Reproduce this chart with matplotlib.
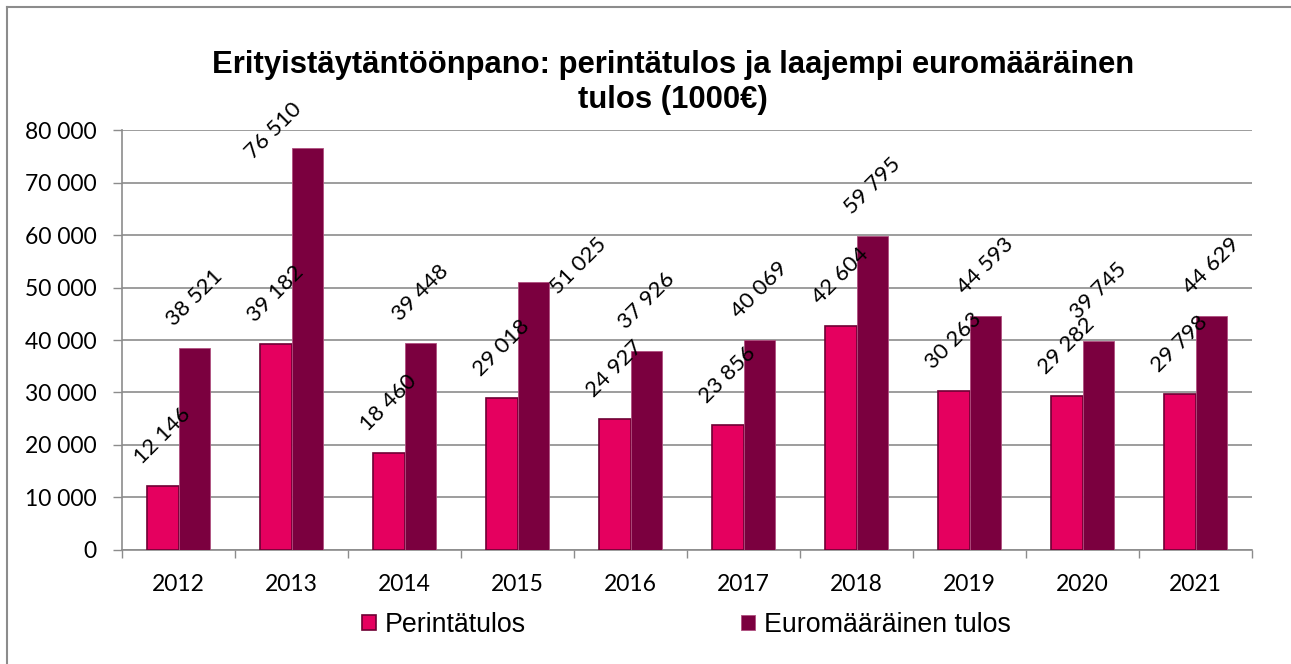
import numpy as np
import matplotlib
matplotlib.use("Agg")
from matplotlib import pyplot as plt
from matplotlib.lines import Line2D
from matplotlib.patches import Patch

# tiedot (1000 €)
years = ['2012', '2013', '2014', '2015', '2016', '2017', '2018', '2019', '2020', '2021']
perintatulos = [12146, 39182, 18460, 29018, 24927, 23856, 42604, 30263, 29282, 29798]
euromaarainen = [38521, 76510, 39448, 51025, 37926, 40069, 59795, 44593, 39745, 44629]
series_names = ['Perintätulos', 'Euromääräinen tulos']
title = 'Erityistäytäntöönpano: perintätulos ja laajempi euromääräinen\ntulos (1000€)'

PINK = '#E5005F'
PINK_EDGE = '#6E0034'
DARK = '#7B003F'
DARK_EDGE = '#B0507F'
GRID = '#8C8C8C'

DPI = 100
fig = plt.figure(figsize=(12.91, 6.64), dpi=DPI)
ax = fig.add_axes([0.0945, 0.1717, 0.8753, 0.6325])

x = np.arange(len(years))
w = 0.283
b1 = ax.bar(x - w / 2, perintatulos, w, color=PINK, edgecolor=PINK_EDGE, linewidth=1.2, zorder=3)
b2 = ax.bar(x + w / 2, euromaarainen, w, color=DARK, edgecolor=DARK_EDGE, linewidth=0.6, zorder=3)

ax.set_xlim(-0.5, len(years) - 0.5)
ax.set_ylim(0, 80000)
ax.set_yticks(np.arange(0, 80001, 10000))
ax.set_yticklabels([f'{v:,}'.replace(',', ' ') for v in range(0, 80001, 10000)])
ax.set_xticks(x)
ax.set_xticklabels(years)
ax.set_xticks(np.arange(-0.5, len(years)), minor=True)

for t in ax.get_yticklabels() + ax.get_xticklabels():
    t.set_fontfamily('Lato')
    t.set_fontsize(16.5)

ax.tick_params(axis='y', length=6.5, width=1, color=GRID, pad=12)
ax.tick_params(axis='x', which='major', length=0, pad=17)
ax.tick_params(axis='x', which='minor', length=6, width=1, color=GRID)
ax.grid(axis='y', color=GRID, linewidth=1.2, zorder=0)
for s in ['top', 'right']:
    ax.spines[s].set_visible(False)
for s in ['left', 'bottom']:
    ax.spines[s].set_color(GRID)
    ax.spines[s].set_linewidth(1.2)
ax.set_axisbelow(True)

# arvot vinottain pylväiden yläpuolelle (siirrot pikseleinä)
px = 72.0 / DPI
nudge = {(1, 1): (-34, 17), (3, 1): (45, 16)}
for k, (bars, vals) in enumerate([(b1, perintatulos), (b2, euromaarainen)]):
    for i, (bar, v) in enumerate(zip(bars, vals)):
        dx, dy = nudge.get((i, k), (0, 50))
        ax.annotate(f'{v:,}'.replace(',', ' '),
                    (bar.get_x() + bar.get_width() / 2, v),
                    xytext=(dx * px, dy * px), textcoords='offset points',
                    rotation=45, ha='center', va='center',
                    fontfamily='Lato', fontsize=16, annotation_clip=False, zorder=5)

fig.text(0.521, 0.876, title, ha='center', va='center', fontfamily='Liberation Sans',
         fontweight='bold', fontsize=22.3, linespacing=1.2)

handles = [Patch(facecolor=PINK, edgecolor=PINK_EDGE, linewidth=1.2),
           Patch(facecolor=DARK, edgecolor=DARK_EDGE, linewidth=0.6)]
fig.legend(handles, series_names, loc='center left', bbox_to_anchor=(0.262, 0.059),
           ncol=2, frameon=False, prop=dict(family='Liberation Sans', size=19.3),
           handlelength=0.52, handleheight=0.52, handletextpad=0.33, columnspacing=8.0)

# kehys
fig.add_artist(Line2D([7 / 1291, 7 / 1291], [0, 1 - 7 / 664], transform=fig.transFigure,
                      color='#8C8C8C', linewidth=1.5))
fig.add_artist(Line2D([7 / 1291, 1], [1 - 7 / 664, 1 - 7 / 664], transform=fig.transFigure,
                      color='#8C8C8C', linewidth=1.5))

fig.savefig('out.png', dpi=DPI)
